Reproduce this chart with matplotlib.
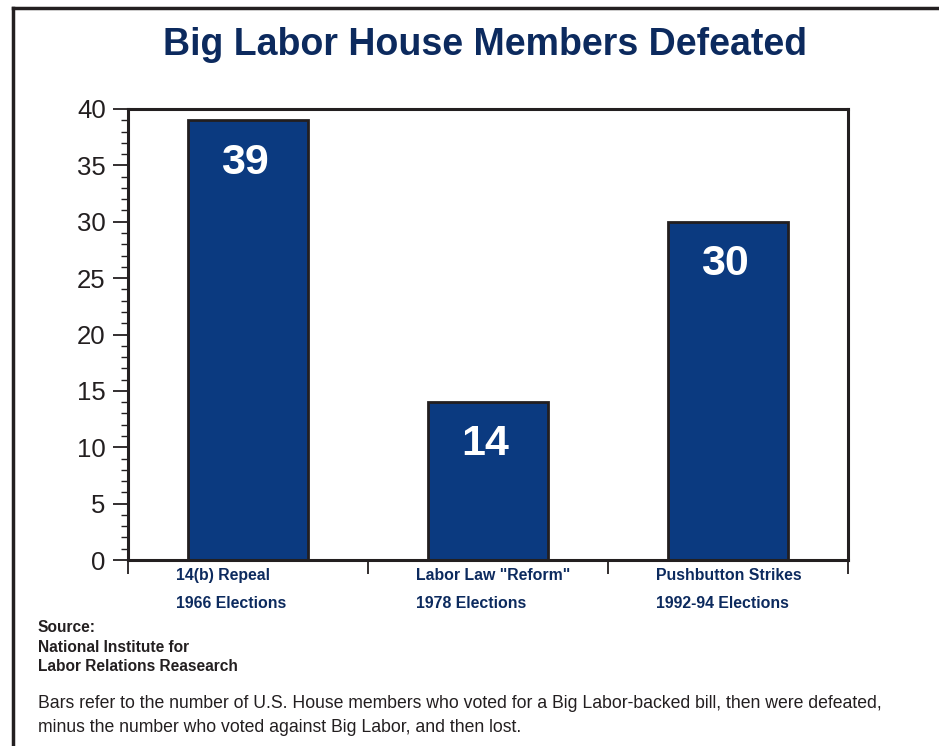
import matplotlib
matplotlib.use("Agg")
import matplotlib.pyplot as plt
from matplotlib.lines import Line2D
from matplotlib.ticker import MultipleLocator
import matplotlib.transforms as mtransforms

# data
categories = ['14(b) Repeal\n1966 Elections',
              'Labor Law "Reform"\n1978 Elections',
              'Pushbutton Strikes\n1992-94 Elections']
values = [39, 14, 30]
title = "Big Labor House Members Defeated"
source = "Source:\nNational Institute for\nLabor Relations Reasearch"
note = ("Bars refer to the number of U.S. House members who voted for a Big Labor-backed bill, then were defeated,\n"
        "minus the number who voted against Big Labor, and then lost.")

navy = "#0c2a5e"
bar_col = "#0b3a80"
dark = "#231f20"

plt.rcParams['font.family'] = ['Liberation Sans', 'DejaVu Sans']

fig = plt.figure(figsize=(9.39, 7.46), dpi=100)
ax = fig.add_axes([0.1363, 0.2493, 0.7668, 0.6046])

xs = [i + 0.5 for i in range(len(values))]
ax.bar(xs, values, width=0.5, color=bar_col, edgecolor=dark, linewidth=2, zorder=2)

for x, v in zip(xs, values):
    ax.text(x - 0.012, v - 3.75, str(v), color="white", fontsize=31, fontweight="bold",
            ha="center", va="center", zorder=3)

ax.set_xlim(0, 3)
ax.set_ylim(0, 40)
ax.yaxis.set_major_locator(MultipleLocator(5))
ax.yaxis.set_minor_locator(MultipleLocator(1))
ax.set_xticks([0, 1, 2, 3])
ax.set_xticklabels([])
ax.tick_params(axis="y", which="major", length=11, width=1.3, color=dark,
               labelsize=18.5, labelcolor=dark, pad=5)
ax.tick_params(axis="y", which="minor", length=5, width=1.0, color=dark)
ax.tick_params(axis="x", which="major", length=10, width=1.3, color=dark)
for s in ax.spines.values():
    s.set_linewidth(2.2)
    s.set_color(dark)

trans = mtransforms.blended_transform_factory(ax.transData, fig.transFigure)
for i, lab in enumerate(categories):
    ax.text(i + 0.2, 1 - 568 / 746, lab, transform=trans,
            fontsize=11.4, fontweight="bold", color=navy, ha="left", va="top",
            linespacing=2.05)

fig.text(0.517, 1 - 45 / 746, title, ha="center", va="center", fontsize=27,
         fontweight="bold", color=navy)

fig.text(38 / 939, 1 - 620 / 746, source, ha="left", va="top", fontsize=11.2,
         fontweight="bold", color=dark, linespacing=1.38)
fig.text(38 / 939, 1 - 695 / 746, note, ha="left", va="top", fontsize=12.7,
         color=dark, linespacing=1.5)

# outer frame (left and top edges)
fig.add_artist(Line2D([13 / 939, 13 / 939], [0, 1 - 8 / 746], transform=fig.transFigure,
                      color=dark, linewidth=2.5))
fig.add_artist(Line2D([13 / 939, 1], [1 - 8 / 746, 1 - 8 / 746], transform=fig.transFigure,
                      color=dark, linewidth=2.5))

fig.savefig("out.png", dpi=100)
